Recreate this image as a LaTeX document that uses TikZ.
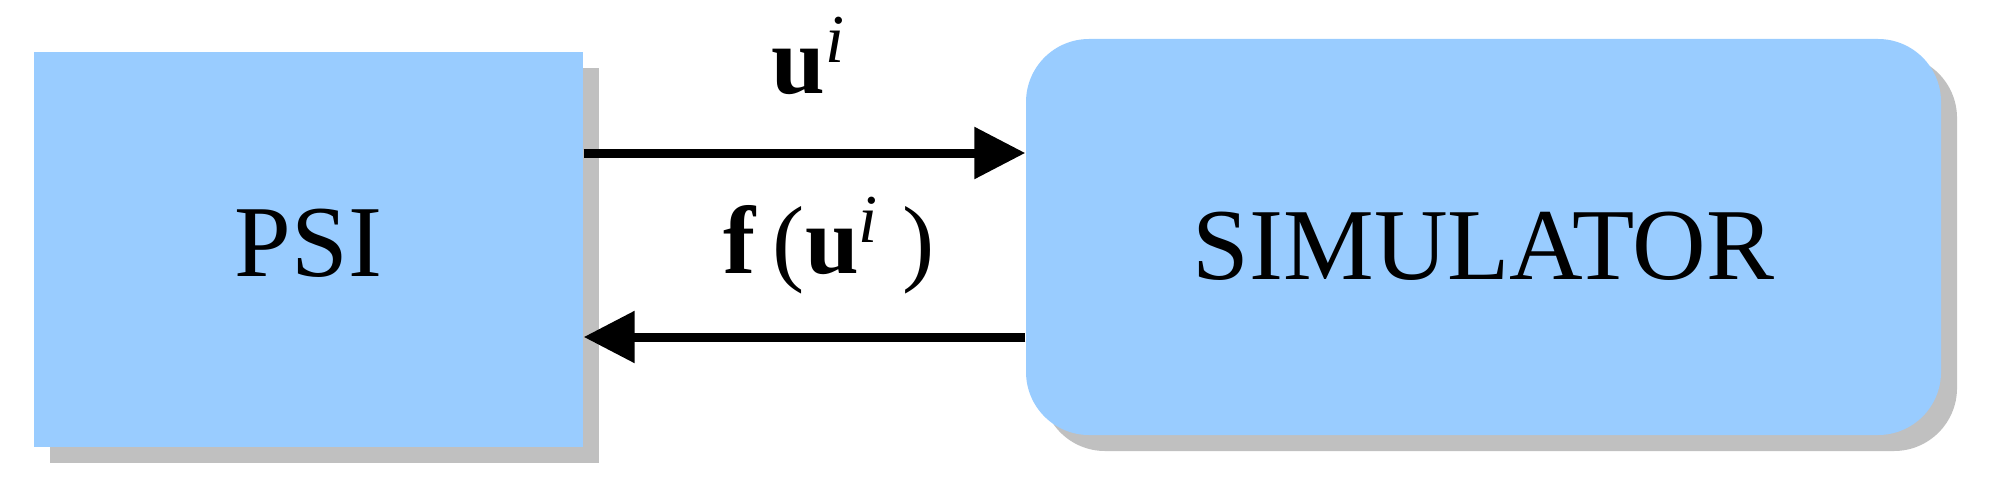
\documentclass[tikz,border=0pt]{standalone}
\usepackage{fontspec}
\setmainfont{Liberation Serif}
\usetikzlibrary{arrows.meta,calc,positioning,shadows}
\definecolor{boxblue}{RGB}{153,204,255}
\definecolor{shadowgray}{RGB}{192,192,192}
\newcommand{\supi}{\raisebox{0.31cm}{\fontsize{19.5}{20}\selectfont\itshape i}}

\begin{document}
\begin{tikzpicture}[
  block/.style={fill=boxblue, draw=none, inner sep=0pt, font=\fontsize{29}{34}\selectfont,
    drop shadow={shadow xshift=0.16cm, shadow yshift=-0.16cm, fill=shadowgray, opacity=1}},
  flow/.style={line width=0.09cm, -{Triangle[length=0.51cm,width=0.5cm]}},
  lbl/.style={anchor=base, inner sep=0pt, font=\fontsize{27.5}{33}\selectfont}]
  \useasboundingbox (0,0) rectangle (19.90,4.99);
  % the two blocks
  \node[block, minimum width=5.49cm, minimum height=3.95cm, text height=0.68cm, text depth=0.15cm] (psi) at (3.085,2.495) {PSI};
  \node[block, rounded corners=0.63cm, minimum width=9.15cm, minimum height=3.96cm, text height=0.84cm, text depth=0cm] (sim) at (14.835,2.62) {SIMULATOR};
  % data exchange
  \draw[flow] (psi.east |- 0,3.46) -- (sim.west |- 0,3.46);
  \draw[flow] (sim.west |- 0,1.62) -- (psi.east |- 0,1.62);
  \node[lbl] (ulbl) at (8.08,4.06) {\textbf{u}\supi};
  \node[lbl] (flbl) at (8.29,2.26) {\textbf{f}\,(\textbf{u}\supi\ )};
\end{tikzpicture}
\end{document}
